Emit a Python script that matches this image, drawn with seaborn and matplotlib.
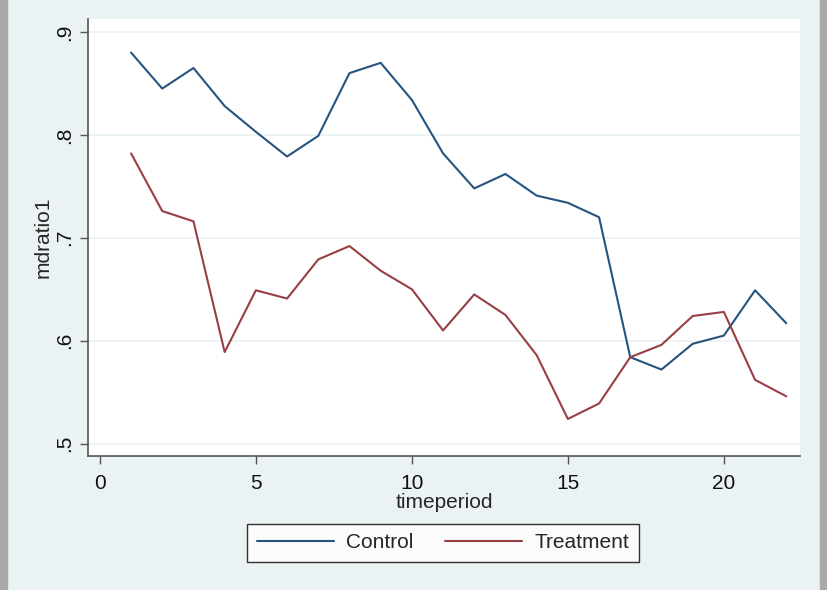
import numpy as np
import pandas as pd
import seaborn as sns
import matplotlib.pyplot as plt
from matplotlib.patches import Rectangle

timeperiod = list(range(1, 23))
control = [0.880, 0.845, 0.865, 0.828, 0.803, 0.779, 0.799, 0.860, 0.870, 0.834, 0.782,
           0.748, 0.762, 0.741, 0.734, 0.720, 0.584, 0.572, 0.597, 0.605, 0.649, 0.617]
treatment = [0.782, 0.726, 0.716, 0.589, 0.649, 0.641, 0.679, 0.692, 0.668, 0.650, 0.610,
             0.645, 0.625, 0.586, 0.524, 0.539, 0.584, 0.596, 0.624, 0.628, 0.562, 0.546]
groups = ["Control", "Treatment"]
yticks = [0.5, 0.6, 0.7, 0.8, 0.9]
ytick_labels = [".5", ".6", ".7", ".8", ".9"]
xticks = [0, 5, 10, 15, 20]

df = pd.DataFrame({
    "timeperiod": timeperiod * 2,
    "mdratio1": control + treatment,
    "group": [groups[0]] * 22 + [groups[1]] * 22,
})

sns.set_style("white")
plt.rcParams["font.family"] = ["Liberation Sans", "DejaVu Sans"]

bg = "#eaf2f3"
fs = 15
fig = plt.figure(figsize=(8.27, 5.9), dpi=100, facecolor=bg)
ax = fig.add_axes([88 / 827, 1 - 456 / 590, (800 - 88) / 827, (456 - 19) / 590])
ax.set_facecolor("white")

# grey frame strips on the sides
fig.patches.append(Rectangle((0, 0), 7 / 827, 1, transform=fig.transFigure,
                             color="#a9a9a9", zorder=0))
fig.patches.append(Rectangle((820 / 827, 0), 7 / 827, 1, transform=fig.transFigure,
                             color="#a9a9a9", zorder=0))

sns.lineplot(data=df, x="timeperiod", y="mdratio1", hue="group", hue_order=groups,
             palette=["#25547f", "#983e45"], linewidth=1.5, ax=ax, legend=True)

ax.set_xlim(-0.38, 22.44)
ax.set_ylim(0.488, 0.9126)
ax.set_yticks(yticks)
ax.set_yticklabels(ytick_labels, rotation=90, va="center")
ax.set_xticks(xticks)
ax.yaxis.grid(True, color=bg, linewidth=1.2)
ax.set_axisbelow(True)
for s in ["top", "right"]:
    ax.spines[s].set_visible(False)
for s in ["left", "bottom"]:
    ax.spines[s].set_color("#555555")
    ax.spines[s].set_linewidth(1.2)
ax.tick_params(axis="both", direction="out", length=6, width=1, color="#555555",
               labelsize=fs, labelcolor="#111111", left=True, bottom=True)
ax.tick_params(axis="y", pad=4)
ax.tick_params(axis="x", pad=7)
ax.set_xlabel("timeperiod", fontsize=fs, labelpad=0)
ax.set_ylabel("mdratio1", fontsize=fs, labelpad=2)

h, l = ax.get_legend_handles_labels()
ax.get_legend().remove()
leg = fig.legend(h, l, loc="center", bbox_to_anchor=(443 / 827, 1 - 543 / 590), ncol=2,
                 fontsize=fs, frameon=True, fancybox=False, edgecolor="black",
                 handlelength=3.7, handletextpad=0.6, columnspacing=1.5,
                 borderpad=0.45, borderaxespad=0)
leg.get_frame().set_linewidth(1)

fig.savefig("out.png", dpi=100, facecolor=bg)
